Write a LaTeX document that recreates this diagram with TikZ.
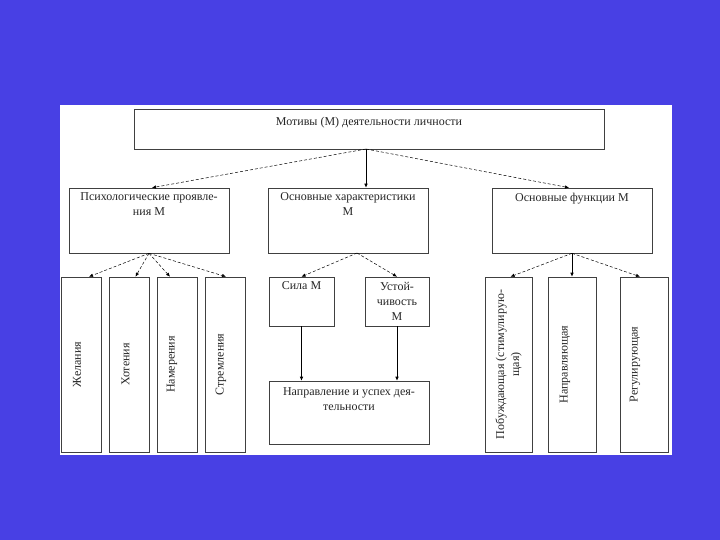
\documentclass[tikz,border=0pt]{standalone}
\usepackage{fontspec}
\setmainfont{Liberation Serif}
\usetikzlibrary{arrows.meta}
\definecolor{slideblue}{RGB}{72,64,228}
\tikzset{
  box/.style={draw=black!75, line width=0.6pt, fill=white, inner sep=0pt},
  txt/.style={anchor=north, align=center, inner sep=0pt, font=\fontsize{12}{15}\selectfont, text=black!85},
  vtxt/.style={rotate=90, align=center, inner sep=0pt, font=\fontsize{12}{15}\selectfont, text=black!85},
  dsh/.style={->, dash pattern=on 3pt off 2pt, line width=0.5pt},
  sld/.style={->, line width=0.6pt}
}
\begin{document}
\begin{tikzpicture}[x=1pt, y=-1pt, >={Latex[length=4pt,width=3.5pt]}]
            % Background
            \fill[slideblue] (0,0) rectangle (720,540);
            \fill[white] (60,105) rectangle (672,455);

            % Nodes
            \node[box, minimum width=470pt, minimum height=40pt] (motiv) at (369,129) {};
            \node[txt] (motivtxt) at ([yshift=-8pt]motiv.north) {Мотивы (М) деятельности личности};

            \node[box, minimum width=160pt, minimum height=65pt] (psy) at (149,220.5) {};
            \node[box, minimum width=160pt, minimum height=65pt] (har) at (348,220.5) {};
            \node[box, minimum width=160pt, minimum height=65pt] (fun) at (572,220.5) {};
            \node[txt] (psytxt) at ([yshift=-5pt]psy.north) {Психологические проявле-\\ния М};
            \node[txt] (hartxt) at ([yshift=-5pt]har.north) {Основные характеристики\\М};
            \node[txt] (funtxt) at ([yshift=-5pt]fun.north) {Основные функции М};

            \node[box, minimum width=40pt, minimum height=175pt] (zhel) at (81,364.5) {};
            \node[box, minimum width=40pt, minimum height=175pt] (hot) at (129.5,364.5) {};
            \node[box, minimum width=40pt, minimum height=175pt] (nam) at (177,364.5) {};
            \node[box, minimum width=40pt, minimum height=175pt] (strem) at (225,364.5) {};
            \node[vtxt] (zheltxt) at ([xshift=-4pt]zhel.center) {Желания};
            \node[vtxt] (hottxt) at ([xshift=-4pt]hot.center) {Хотения};
            \node[vtxt] (namtxt) at ([xshift=-5pt]nam.center) {Намерения};
            \node[vtxt] (stremtxt) at ([xshift=-4pt]strem.center) {Стремления};

            \node[box, minimum width=65pt, minimum height=49pt] (sila) at (301.5,301.5) {};
            \node[box, minimum width=64pt, minimum height=49pt] (ust) at (397,301.5) {};
            \node[box, minimum width=160pt, minimum height=63pt] (napr) at (349,412.5) {};
            \node[txt] (silatxt) at ([yshift=-5pt]sila.north) {Сила М};
            \node[txt] (usttxt) at ([yshift=-5pt]ust.north) {Устой-\\чивость\\М};
            \node[txt] (naprtxt) at ([yshift=-7pt]napr.north) {Направление и успех дея-\\тельности};

            \node[box, minimum width=47pt, minimum height=175pt] (pob) at (508.5,364.5) {};
            \node[box, minimum width=48pt, minimum height=175pt] (napf) at (572,364.5) {};
            \node[box, minimum width=48pt, minimum height=175pt] (reg) at (644,364.5) {};
            \node[vtxt] (pobtxt) at (pob.center) {Побуждающая (стимулирую-\\щая)};
            \node[vtxt] (napftxt) at ([xshift=-7pt]napf.center) {Направляющая};
            \node[vtxt] (regtxt) at ([xshift=-9pt]reg.center) {Регулирующая};

            % Lines
            \coordinate (motivout) at (366,149);
            \draw[dsh] (motivout) -- ([xshift=3pt]psy.north);
            \draw[sld] (motivout) -- (motivout |- har.north);
            \draw[dsh] (motivout) -- ([xshift=-3pt]fun.north);

            \draw[dsh] (psy.south) -- ([xshift=8pt]zhel.north);
            \draw[dsh] (psy.south) -- ([xshift=6pt]hot.north);
            \draw[dsh] (psy.south) -- ([xshift=-7pt]nam.north);
            \draw[dsh] (psy.south) -- ([xshift=1pt]strem.north);

            \coordinate (harout) at (357,253);
            \draw[dsh] (harout) -- (sila.north);
            \draw[dsh] (harout) -- (ust.north);
            \draw[sld] (sila.south) -- (sila.south |- napr.north);
            \draw[sld] (ust.south) -- (ust.south |- napr.north);

            \draw[dsh] (fun.south) -- ([xshift=2pt]pob.north);
            \draw[sld] (fun.south) -- (napf.north);
            \draw[dsh] (fun.south) -- ([xshift=-4pt]reg.north);
        \end{tikzpicture}
\end{document}
